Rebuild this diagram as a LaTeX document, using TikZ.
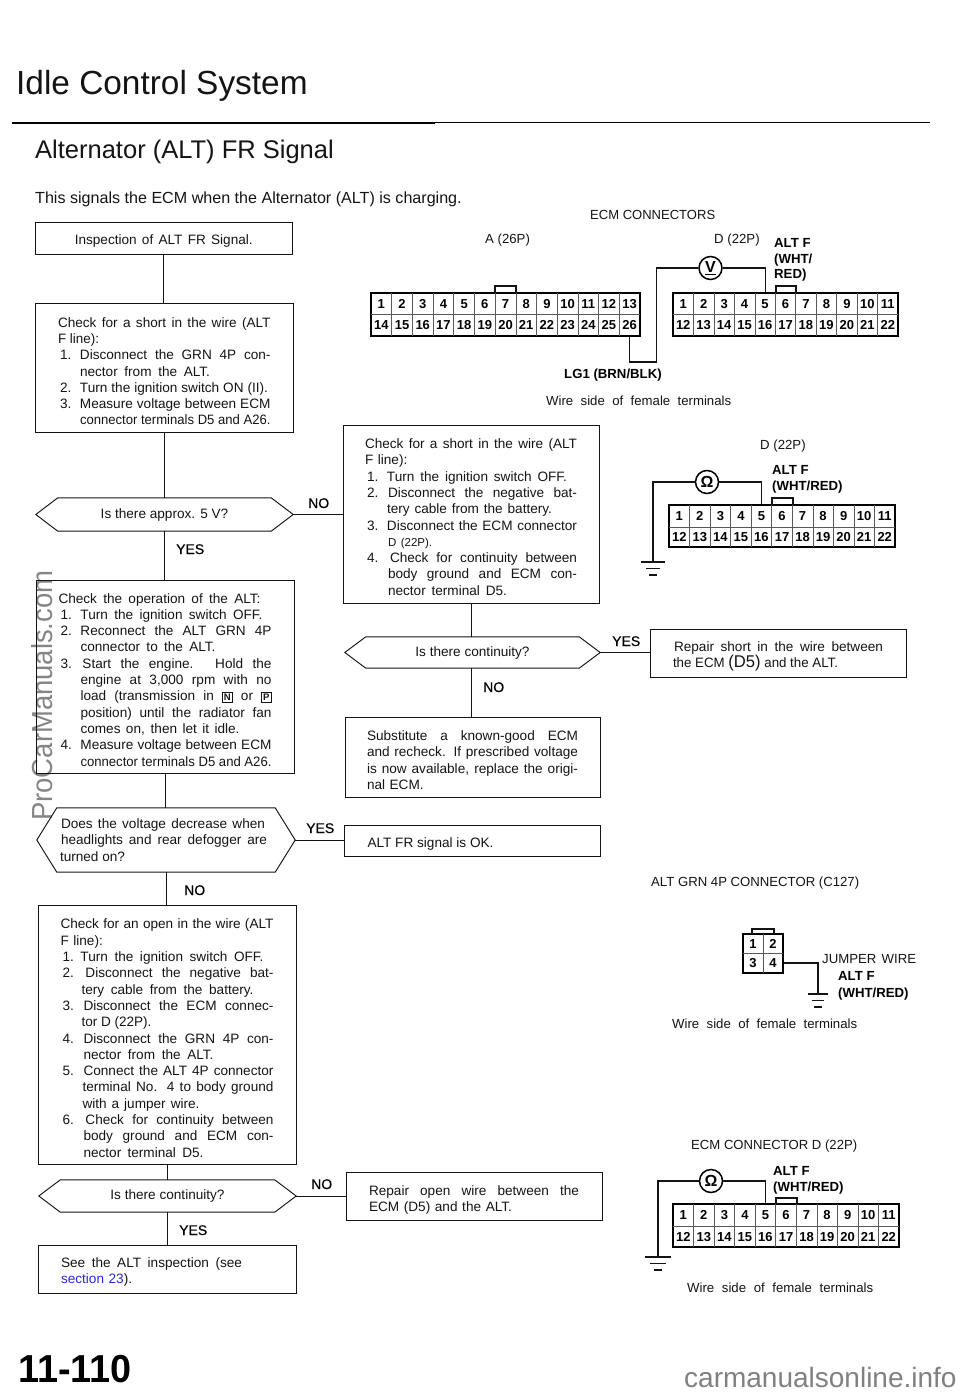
\documentclass[tikz,border=0pt]{standalone}
\usepackage{fontspec}
\usepackage{graphicx}
\setmainfont{Liberation Sans}
\newfontfamily\semib[FakeBold=0.35]{Liberation Sans}
\definecolor{ink}{gray}{0.08}
\definecolor{linkblue}{RGB}{40,40,230}
\newsavebox\tmpbox
\newlength\fitw
\newcommand\fitto[2]{\setlength\fitw{#1}\sbox\tmpbox{\spaceskip=0pt\xspaceskip=0pt #2}\ifdim\wd\tmpbox>\fitw\resizebox{\fitw}{\height}{\usebox\tmpbox}\else\makebox[\fitw][s]{\spaceskip=0pt\xspaceskip=0pt #2}\fi}
% continuation lines: J = justified to right edge, L = natural, W = given width
\newcommand\rowCJ[2]{\hspace*{#1pt}\fitto{\dimexpr\hsize-#1pt\relax}{#2}}
\newcommand\rowCL[2]{\hspace*{#1pt}#2}
\newcommand\rowCW[3]{\hspace*{#1pt}\fitto{#2pt}{#3}}
% numbered lines
\newcommand\rowNJ[3]{\makebox[#1pt][l]{\hspace*{2pt}#2}\fitto{\dimexpr\hsize-#1pt\relax}{#3}}
\newcommand\rowNL[3]{\makebox[#1pt][l]{\hspace*{2pt}#2}#3}
\newcommand\rowNW[4]{\makebox[#1pt][l]{\hspace*{2pt}#2}\fitto{#3pt}{#4}}
\newcommand\kb[1]{{\fboxsep=1.2pt\fboxrule=0.8pt\fbox{\fontsize{9.5}{10}\selectfont\bfseries #1}}}
\newcommand\topgap[1]{\rule{0pt}{#1pt}}
\tikzset{
  flowbox/.style={draw=ink,line width=0.95pt,rectangle,inner sep=0pt,align=left,text=ink,font=\fontsize{13.6}{16.3}\selectfont},
  hexbox/.style={rectangle,inner sep=0pt,align=center,text=ink,font=\fontsize{13.6}{16.3}\selectfont},
  flow/.style={draw=ink,line width=0.95pt},
  wire/.style={draw=ink,line width=1.1pt},
  lbl/.style={anchor=base west,inner sep=0pt,text=ink,font=\fontsize{13.2}{16}\selectfont},
  ans/.style={anchor=base west,inner sep=0pt,text=black,font=\semib\fontsize{14}{16}\selectfont},
  wirelbl/.style={anchor=base west,inner sep=0pt,text=black,font=\bfseries\fontsize{13.2}{16}\selectfont},
  pinnum/.style={inner sep=0pt,text height=9.3pt,text depth=0pt,text=black,font=\bfseries\fontsize{13}{14}\selectfont},
  meter/.style={circle,draw=black,line width=1.5pt,fill=white,inner sep=0pt,minimum size=23pt,font=\bfseries\fontsize{16}{16}\selectfont},
  connbody/.style={draw=black,line width=1.2pt,rectangle,inner sep=0pt},
  cellline/.style={draw=black!65,line width=0.6pt},
}
% name, x1,y1,x2,y2, margin, text
\newcommand\flowrect[7]{%
  \pgfmathsetmacro\bw{#4-#2}\pgfmathsetmacro\bh{#5-#3}\pgfmathsetmacro\tw{#4-#2-2*#6}%
  \node[flowbox,minimum width=\bw pt,minimum height=\bh pt,text width=\tw pt] (#1) at ({(#2+#4)/2},{(#3+#5)/2}) {#7};}
% name, x1,y1,x2,y2, chamfer, text
\newcommand\flowhex[7]{%
  \pgfmathsetmacro\bw{#4-#2}\pgfmathsetmacro\bh{#5-#3}%
  \node[hexbox,minimum width=\bw pt,minimum height=\bh pt] (#1) at ({(#2+#4)/2},{(#3+#5)/2}) {\raisebox{-2.3pt}{#7}};
  \draw[flow] (#1.west) -- ([xshift=#6pt]#1.north west) -- ([xshift=-#6pt]#1.north east) -- (#1.east) -- ([xshift=-#6pt]#1.south east) -- ([xshift=#6pt]#1.south west) -- cycle;}
% name, x1, x2, top, mid, bottom, columns, keyL, keyR, keyTop
\newcommand\conn[9]{\connB{#1}{#2}{#3}{#4}{#5}{#6}{#7}{#8}{#9}}
\newcommand\connB[9]{%
  \def\cname{#1}\def\cxa{#2}\def\cxb{#3}\def\cta{#4}\def\ctb{#5}\def\ctc{#6}\def\cn{#7}\def\kl{#8}\def\kr{#9}\connC}
\newcommand\connC[1]{%
  \pgfmathsetmacro\bw{\cxb-\cxa}\pgfmathsetmacro\bh{\ctc-\cta}%
  \node[connbody,minimum width=\bw pt,minimum height=\bh pt] (\cname) at ({(\cxa+\cxb)/2},{(\cta+\ctc)/2}) {};
  \draw[wire] (\kl,\cta) -- (\kl,#1) -- (\kr,#1) -- (\kr,\cta);
  \draw[cellline] (\cxa,\ctb) -- (\cxb,\ctb);
  \foreach \k in {1,...,\cn}{%
    \pgfmathsetmacro\px{\cxa+(\k-.5)*(\cxb-\cxa)/\cn}%
    \pgfmathtruncatemacro\kk{\k+\cn}%
    \node[pinnum] (\cname\k) at (\px,{(\cta+\ctb)/2}) {\k};
    \node[pinnum] (\cname\kk) at (\px,{(\ctb+\ctc)/2}) {\kk};
    \ifnum\k<\cn\pgfmathsetmacro\qx{\cxa+\k*(\cxb-\cxa)/\cn}\draw[cellline] (\qx,\cta) -- (\qx,\ctc);\fi
  }}
% ground at coordinate name, half widths
\newcommand\groundat[4]{\draw[wire] ([xshift=-#2pt]#1) -- ([xshift=#2pt]#1) ([xshift=-#3pt,yshift=-6.5pt]#1) -- ([xshift=#3pt,yshift=-6.5pt]#1) ([xshift=-#4pt,yshift=-13pt]#1) -- ([xshift=#4pt,yshift=-13pt]#1);}
\begin{document}
\begin{tikzpicture}[x=1pt,y=-1pt]
\useasboundingbox (0,0) rectangle (960,1394);
% watermarks
\node[rotate=90,xscale=0.947,anchor=base west,inner sep=0pt,text=black!48,font=\fontsize{29}{32}\selectfont] (wm1) at (52,821) {ProCarManuals.com};
\node[anchor=base west,inner sep=0pt,text=black!50,font=\fontsize{28}{30}\selectfont] (wm2) at (684,1387) {carmanualsonline.info};
% headings
\node[anchor=base west,inner sep=0pt,text=ink,font=\fontsize{33.4}{36}\selectfont] (title) at (16,95) {Idle Control System};
\node[anchor=base west,inner sep=0pt,text=ink,font=\fontsize{25.5}{30}\selectfont] (sub) at (35,158) {Alternator (ALT) FR Signal};
\node[anchor=base west,inner sep=0pt,text=ink,font=\fontsize{16.1}{18}\selectfont] (intro) at (35,203) {This signals the ECM when the Alternator (ALT) is charging.};
\coordinate (ruleA) at (12,122.7); \coordinate (ruleB) at (435,122.7); \coordinate (ruleC) at (930,122.7);
\draw[black,line width=2.2pt] (ruleA) -- (ruleB);
\draw[black,line width=1.5pt] (ruleB) -- (ruleC);
\node[anchor=base west,inner sep=0pt,text=black,font=\bfseries\fontsize{39}{40}\selectfont,xscale=0.97] (page) at (18,1382) {11-110};

% left column
\flowrect{b1}{35}{222}{292.5}{254.5}{20}{\topgap{15.6}\makebox[\hsize][c]{\fitto{178pt}{Inspection of ALT FR Signal.}}}
\flowrect{b2}{35.5}{303}{293}{432}{22.5}{\topgap{17.2}%
\rowCJ{0}{Check for a short in the wire (ALT}\\
\rowCW{0}{41}{F line):}\\
\rowNJ{22}{1.}{Disconnect the GRN 4P con-}\\
\rowCW{22}{130}{nector from the ALT.}\\
\rowNW{22}{2.}{188}{Turn the ignition switch ON (II).}\\
\rowNJ{22}{3.}{Measure voltage between ECM}\\
\rowCJ{22}{connector terminals D5 and A26.}}
\flowhex{h1}{36}{498}{293}{531}{22}{Is there approx. 5 V?}
\flowrect{b3}{36}{580}{294}{773}{22.5}{\topgap{16.2}%
\rowCW{0}{202}{Check the operation of the ALT:}\\
\rowNW{22}{1.}{182}{Turn the ignition switch OFF.}\\
\rowNJ{22}{2.}{Reconnect the ALT GRN 4P}\\
\rowCW{22}{135}{connector to the ALT.}\\
\rowNJ{24}{3.}{Start the engine. Hold the}\\
\rowCJ{22}{engine at 3,000 rpm with no}\\
\rowCJ{22}{load (transmission in \kb{N} or \kb{P}}\\
\rowCJ{22}{position) until the radiator fan}\\
\rowCW{22}{159}{comes on, then let it idle.}\\
\rowNJ{22}{4.}{Measure voltage between ECM}\\
\rowCJ{22}{connector terminals D5 and A26.}}
\flowhex{h3}{37}{808}{295}{872}{20}{\parbox{212pt}{\raggedright\hspace*{1pt}\fitto{204pt}{Does the voltage decrease when}\\\hspace*{1pt}\fitto{206pt}{headlights and rear defogger are}\\turned on?}}
\flowrect{b5}{38}{905}{296}{1164}{22.5}{\topgap{17.2}%
\rowCJ{0}{Check for an open in the wire (ALT}\\
\rowCL{0}{F line):}\\
\rowNW{20}{1.}{183}{Turn the ignition switch OFF.}\\
\rowNJ{25}{2.}{Disconnect the negative bat-}\\
\rowCW{21}{172}{tery cable from the battery.}\\
\rowNJ{23}{3.}{Disconnect the ECM connec-}\\
\rowCW{21}{70}{tor D (22P).}\\
\rowNJ{23}{4.}{Disconnect the GRN 4P con-}\\
\rowCW{23}{130}{nector from the ALT.}\\
\rowNJ{23}{5.}{Connect the ALT 4P connector}\\
\rowCJ{22}{terminal No. 4 to body ground}\\
\rowCW{22}{117}{with a jumper wire.}\\
\rowNJ{25}{6.}{Check for continuity between}\\
\rowCJ{23}{body ground and ECM con-}\\
\rowCW{23}{120}{nector terminal D5.}}
\flowhex{h4}{39}{1180}{296}{1212}{21.5}{Is there continuity?}
\flowrect{b6}{38.5}{1245}{296}{1293}{22.5}{\topgap{16}\fitto{181pt}{See the ALT inspection (see}\\{\color{linkblue}section 23}).}

% middle column
\flowrect{b4}{343}{425}{599}{603}{22}{\topgap{16}%
\rowCJ{0}{Check for a short in the wire (ALT}\\
\rowCL{0}{F line):}\\
\rowNW{22}{1.}{180}{Turn the ignition switch OFF.}\\
\rowNJ{23}{2.}{Disconnect the negative bat-}\\
\rowCW{22}{165}{tery cable from the battery.}\\
\rowNJ{22}{3.}{Disconnect the ECM connector}\\
\rowCL{23}{{\fontsize{11.5}{12}\selectfont D (22P).}}\\
\rowNJ{25}{4.}{Check for continuity between}\\
\rowCJ{23}{body ground and ECM con-}\\
\rowCW{23}{119}{nector terminal D5.}}
\flowhex{h2}{345}{637}{600}{668}{21}{Is there continuity?}
\flowrect{b7}{345}{717}{600}{797}{22}{\topgap{16}%
\rowCJ{0}{Substitute a known-good ECM}\\
\rowCJ{0}{and recheck. If prescribed voltage}\\
\rowCJ{0}{is now available, replace the origi-}\\
\rowCL{0}{nal ECM.}}
\flowrect{b8}{344.5}{825}{600}{856}{23}{\topgap{16.5}\fitto{126pt}{ALT FR signal is OK.}}
\flowrect{b9}{346}{1172}{602}{1220}{23}{\topgap{18}\rowCJ{0}{Repair open wire between the}\\
\rowCW{0}{143}{ECM (D5) and the ALT.}}
\flowrect{b10}{650}{629}{906}{677}{23}{\topgap{16}\hspace*{1pt}\fitto{209pt}{Repair short in the wire between}\\
\fitto{165pt}{the ECM {\fontsize{17}{16}\selectfont (D5)} and the ALT.}}

% flow connectors
\draw[flow] (b1.south) -- (b1.south |- b2.north);
\draw[flow] (b2.south) -- (b2.south |- h1.north);
\draw[flow] (h1.south) -- (h1.south |- b3.north);
\draw[flow] (b3.south) -- (b3.south |- h3.north);
\draw[flow] (h3.south) -- (h3.south |- b5.north);
\draw[flow] (b5.south) -- (b5.south |- h4.north);
\draw[flow] (h4.south) -- (h4.south |- b6.north);
\draw[flow] (h1.east) -- (h1.east -| b4.west);
\draw[flow] (b4.south) -- (b4.south |- h2.north);
\draw[flow] (b4.south |- h2.south) -- (b4.south |- b7.north);
\draw[flow] (h2.east) -- (h2.east -| b10.west);
\draw[flow] (h3.east) -- (h3.east -| b8.west);
\draw[flow] (h4.east) -- (h4.east -| b9.west);
% answers
\node[ans] (a1) at (308,508) {NO};
\node[ans] (a2) at (176,554) {YES};
\node[ans] (a3) at (612,646) {YES};
\node[ans] (a4) at (483,692) {NO};
\node[ans] (a5) at (306,833) {YES};
\node[ans] (a6) at (184,895) {NO};
\node[ans] (a7) at (311,1189) {NO};
\node[ans] (a8) at (179,1235) {YES};

% ECM connectors diagram
\node[lbl] (t1) at (590,219) {\fitto{125pt}{ECM CONNECTORS}};
\node[lbl] (t2) at (485,243) {A (26P)};
\node[lbl] (t3) at (714,243) {D (22P)};
\conn{A}{371}{640}{293}{314}{336}{13}{495}{516}{286}
\conn{D}{673}{898}{293}{314}{336}{11}{776}{796}{286}
\node[meter] (VM) at (710.5,268) {\underline{V}};
\coordinate (jog) at (656.5,362);
\draw[wire] (A26 |- A.south) |- (jog) |- (VM.west);
\draw[wire] (VM.east) -| (D5 |- D.north);
\node[wirelbl] (t4) at (774,247) {ALT F};
\node[wirelbl] (t5) at (774,263) {(WHT/};
\node[wirelbl] (t6) at (774,278) {RED)};
\node[wirelbl] (t7) at (564,378) {LG1 (BRN/BLK)};
\node[lbl] (t8) at (546,405) {\fitto{185pt}{Wire side of female terminals}};

% continuity diagram 1
\node[lbl] (t9) at (760,449) {D (22P)};
\conn{E}{669}{895}{505}{527}{547}{11}{772}{793}{498}
\node[meter] (OM1) at (707,482) {Ω};
\coordinate (g1) at (653,562);
\draw[wire] (E5 |- E.north) |- (OM1.east);
\draw[wire] (OM1.west) -| (g1);
\groundat{g1}{12}{7}{4}
\node[wirelbl] (t10) at (772,474) {ALT F};
\node[wirelbl] (t11) at (772,490) {(WHT/RED)};

% jumper diagram
\node[lbl] (t12) at (651,886) {\fitto{208pt}{ALT GRN 4P CONNECTOR (C127)}};
\conn{J}{743}{783}{934}{953}{973}{2}{752}{774}{929}
\coordinate (g2) at (818,994);
\draw[wire] (J.east |- 0,963) -| (g2);
\groundat{g2}{10}{6}{4}
\node[lbl] (t13) at (822,963) {\fitto{94pt}{JUMPER WIRE}};
\node[wirelbl] (t14) at (838,980) {ALT F};
\node[wirelbl] (t15) at (838,997) {(WHT/RED)};
\node[lbl] (t16) at (672,1028) {\fitto{185pt}{Wire side of female terminals}};

% continuity diagram 2
\node[lbl] (t17) at (691,1149) {\fitto{166pt}{ECM CONNECTOR D (22P)}};
\conn{G}{673}{899}{1204}{1226}{1247}{11}{776}{797}{1198}
\node[meter] (OM2) at (711,1181) {Ω};
\coordinate (g3) at (658,1257);
\draw[wire] (G5 |- G.north) |- (OM2.east);
\draw[wire] (OM2.west) -| (g3);
\groundat{g3}{13}{8}{4}
\node[wirelbl] (t18) at (773,1175) {ALT F};
\node[wirelbl] (t19) at (773,1191) {(WHT/RED)};
\node[lbl] (t20) at (687,1292) {\fitto{186pt}{Wire side of female terminals}};
\end{tikzpicture}
\end{document}
